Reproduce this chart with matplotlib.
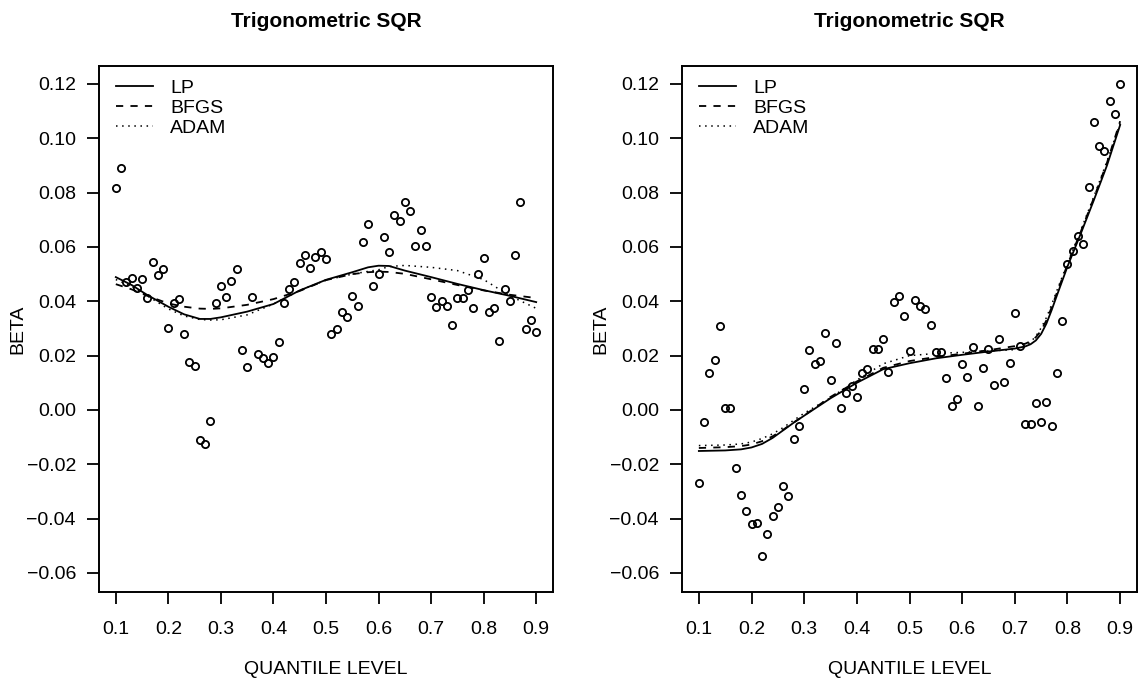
import numpy as np
import matplotlib
matplotlib.use("Agg")
import matplotlib.pyplot as plt

# quantile levels of the scatter points
quantiles = np.arange(10, 91) / 100

# observed BETA, left panel
beta_left = [
    0.0816, 0.0891, 0.0470, 0.0487, 0.0448, 0.0482, 0.0413, 0.0546, 0.0498, 0.0518,
    0.0301, 0.0394, 0.0408, 0.0280, 0.0177, 0.0162, -0.0109, -0.0125, -0.0040, 0.0395,
    0.0458, 0.0417, 0.0475, 0.0517, 0.0220, 0.0158, 0.0417, 0.0205, 0.0192, 0.0173,
    0.0195, 0.0249, 0.0394, 0.0445, 0.0471, 0.0542, 0.0572, 0.0524, 0.0564, 0.0581,
    0.0555, 0.0279, 0.0298, 0.0362, 0.0342, 0.0421, 0.0384, 0.0620, 0.0685, 0.0455,
    0.0501, 0.0636, 0.0582, 0.0717, 0.0696, 0.0765, 0.0734, 0.0603, 0.0664, 0.0603,
    0.0416, 0.0379, 0.0400, 0.0383, 0.0313, 0.0413, 0.0413, 0.0441, 0.0377, 0.0500,
    0.0560, 0.0360, 0.0377, 0.0252, 0.0445, 0.0400, 0.0572, 0.0765, 0.0299, 0.0331,
    0.0286,
]

# observed BETA, right panel
beta_right = [
    -0.0268, -0.0045, 0.0137, 0.0185, 0.0308, 0.0008, 0.0006, -0.0212, -0.0313, -0.0373,
    -0.0421, -0.0415, -0.0538, -0.0457, -0.0392, -0.0358, -0.0281, -0.0315, -0.0107, -0.0060,
    0.0078, 0.0220, 0.0171, 0.0179, 0.0285, 0.0110, 0.0248, 0.0006, 0.0064, 0.0090,
    0.0049, 0.0137, 0.0150, 0.0223, 0.0223, 0.0261, 0.0140, 0.0396, 0.0420, 0.0346,
    0.0217, 0.0405, 0.0384, 0.0373, 0.0314, 0.0212, 0.0212, 0.0117, 0.0015, 0.0040,
    0.0168, 0.0120, 0.0230, 0.0015, 0.0156, 0.0226, 0.0092, 0.0263, 0.0104, 0.0173,
    0.0357, 0.0237, -0.0051, -0.0051, 0.0026, -0.0043, 0.0028, -0.0058, 0.0136, 0.0326,
    0.0537, 0.0584, 0.0642, 0.0611, 0.0822, 0.1059, 0.0971, 0.0952, 0.1136, 0.1091,
    0.1200,
]

# fitted curves, left panel
curve_q_left = [0.10, 0.13, 0.16, 0.20, 0.23, 0.26, 0.28, 0.30, 0.35, 0.40, 0.45, 0.50,
                0.55, 0.58, 0.60, 0.62, 0.65, 0.70, 0.75, 0.80, 0.85, 0.90]
lp_left = [0.0489, 0.0460, 0.0423, 0.0380, 0.0352, 0.0335, 0.0335, 0.0341, 0.0362, 0.0390,
           0.0440, 0.0479, 0.0507, 0.0525, 0.0531, 0.0530, 0.0513, 0.0489, 0.0464, 0.0441,
           0.0420, 0.0397]
bfgs_left = [0.0463, 0.0444, 0.0420, 0.0392, 0.0380, 0.0373, 0.0372, 0.0374, 0.0387, 0.0408,
             0.0438, 0.0478, 0.0500, 0.0507, 0.0509, 0.0508, 0.0501, 0.0481, 0.0460, 0.0440,
             0.0424, 0.0412]
adam_left = [0.0480, 0.0455, 0.0420, 0.0372, 0.0346, 0.0333, 0.0331, 0.0332, 0.0350, 0.0390,
             0.0440, 0.0478, 0.0500, 0.0510, 0.0516, 0.0528, 0.0532, 0.0525, 0.0513, 0.0480,
             0.0420, 0.0374]

# fitted curves, right panel
curve_q_right = [0.10, 0.15, 0.18, 0.20, 0.22, 0.24, 0.26, 0.28, 0.30, 0.35, 0.40, 0.45,
                 0.50, 0.55, 0.60, 0.65, 0.70, 0.72, 0.73, 0.74, 0.75, 0.76, 0.77, 0.78,
                 0.79, 0.80, 0.825, 0.85, 0.875, 0.90]
lp_right = [-0.0151, -0.0149, -0.0145, -0.0138, -0.0125, -0.0103, -0.0075, -0.0047, -0.0021,
            0.0043, 0.0100, 0.0150, 0.0172, 0.0190, 0.0203, 0.0215, 0.0226, 0.0234, 0.0242,
            0.0256, 0.0280, 0.0318, 0.0368, 0.0422, 0.0475, 0.0528, 0.0648, 0.0772, 0.0900,
            0.1049]
bfgs_right = [-0.0140, -0.0137, -0.0133, -0.0127, -0.0115, -0.0097, -0.0073, -0.0046, -0.0020,
              0.0048, 0.0105, 0.0155, 0.0180, 0.0195, 0.0207, 0.0220, 0.0235, 0.0244, 0.0253,
              0.0268, 0.0292, 0.0330, 0.0378, 0.0432, 0.0484, 0.0535, 0.0655, 0.0780, 0.0910,
              0.1063]
adam_right = [-0.0131, -0.0129, -0.0125, -0.0118, -0.0105, -0.0088, -0.0065, -0.0038, -0.0012,
              0.0045, 0.0110, 0.0170, 0.0200, 0.0208, 0.0212, 0.0217, 0.0222, 0.0235, 0.0250,
              0.0272, 0.0302, 0.0340, 0.0388, 0.0440, 0.0490, 0.0540, 0.0660, 0.0785, 0.0915,
              0.1055]

x_ticks = [0.1, 0.2, 0.3, 0.4, 0.5, 0.6, 0.7, 0.8, 0.9]
x_tick_labels = ["0.1", "0.2", "0.3", "0.4", "0.5", "0.6", "0.7", "0.8", "0.9"]
y_ticks = [-0.06, -0.04, -0.02, 0.00, 0.02, 0.04, 0.06, 0.08, 0.10, 0.12]
y_tick_labels = ["\u22120.06", "\u22120.04", "\u22120.02", "0.00", "0.02",
                 "0.04", "0.06", "0.08", "0.10", "0.12"]

plt.rcParams['font.family'] = ['Liberation Sans', 'DejaVu Sans']

fig = plt.figure(figsize=(11.38, 6.87), dpi=100)
ax_l = fig.add_axes([99 / 1138, 1 - 592 / 687, 454 / 1138, 526 / 687])
ax_r = fig.add_axes([682 / 1138, 1 - 592 / 687, 455 / 1138, 526 / 687])

panels = [
    (ax_l, beta_left, curve_q_left, lp_left, bfgs_left, adam_left),
    (ax_r, beta_right, curve_q_right, lp_right, bfgs_right, adam_right),
]

for ax, beta, cq, lp, bfgs, adam in panels:
    ax.plot(quantiles, beta, linestyle='none', marker='o', markersize=5.2,
            markerfacecolor='none', markeredgecolor='black', markeredgewidth=1.3)
    ax.plot(cq, lp, color='black', lw=1.3, label='LP')
    ax.plot(cq, bfgs, color='black', lw=1.3, dashes=(4, 4), label='BFGS')
    ax.plot(cq, adam, color='black', lw=1.1, dashes=(1, 3), label='ADAM')

    ax.set_xlim(0.068, 0.932)
    ax.set_ylim(-0.0670, 0.1266)
    ax.set_xticks(x_ticks)
    ax.set_xticklabels(x_tick_labels)
    ax.set_yticks(y_ticks)
    ax.set_yticklabels(y_tick_labels)
    ax.tick_params(axis='both', direction='out', length=8.6, width=1.3,
                   labelsize=14, color='black')
    ax.tick_params(axis='x', pad=12.5)
    ax.tick_params(axis='y', pad=8)
    for sp in ax.spines.values():
        sp.set_linewidth(1.4)

    ax.set_title('Trigonometric SQR', fontsize=15, fontweight='bold', pad=28)
    ax.set_xlabel('QUANTILE LEVEL', fontsize=14, labelpad=16)
    ax.set_ylabel('BETA', fontsize=14, labelpad=0)

    ax.legend(loc='upper left', bbox_to_anchor=(0.037, 0.975), frameon=False,
              fontsize=14, handlelength=1.9, handletextpad=0.9,
              labelspacing=0.12, borderpad=0, borderaxespad=0)

fig.savefig('out.png', dpi=100)
